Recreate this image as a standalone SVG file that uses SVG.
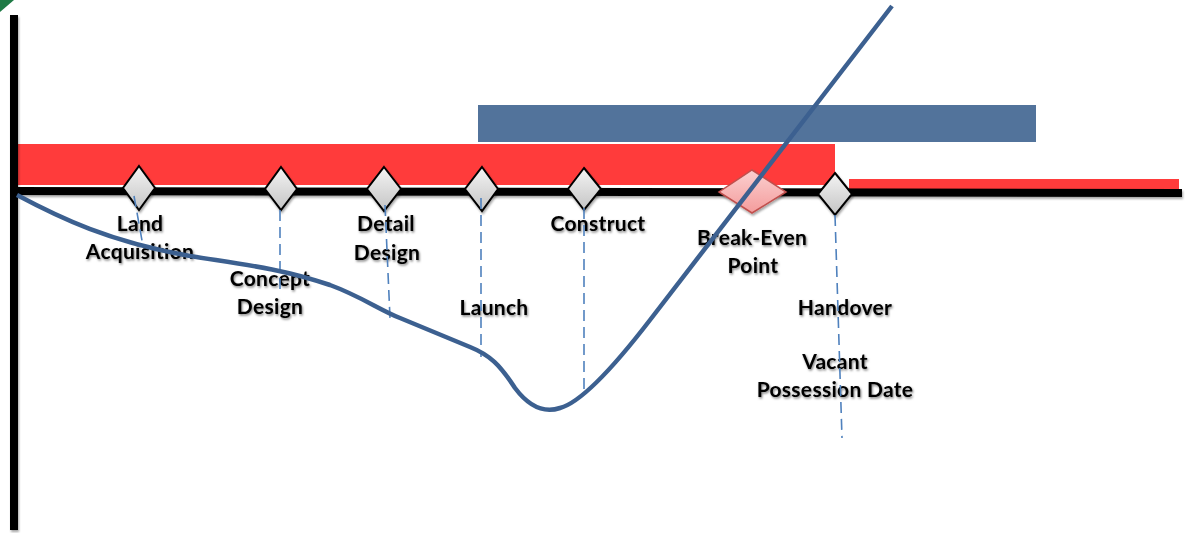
<svg xmlns="http://www.w3.org/2000/svg" width="1193" height="533" viewBox="0 0 1193 533">
<defs>
<linearGradient id="gd" x1="0" y1="0" x2="0" y2="1"><stop offset="0" stop-color="#f4f4f4"/><stop offset="1" stop-color="#c4c4c4"/></linearGradient>
<linearGradient id="pk" x1="0" y1="0" x2="0" y2="1"><stop offset="0" stop-color="#fbd0d0"/><stop offset="1" stop-color="#f49c9c"/></linearGradient>
<filter id="sh" x="-20%" y="-20%" width="140%" height="160%"><feDropShadow dx="1" dy="2" stdDeviation="1.2" flood-color="#000" flood-opacity="0.35"/></filter>
<filter id="ts" x="-10%" y="-30%" width="120%" height="160%"><feDropShadow dx="1" dy="1.5" stdDeviation="1.1" flood-color="#000" flood-opacity="0.5"/></filter>
<style>
.dia{fill:url(#gd);stroke:#000;stroke-width:2;filter:url(#sh)}
.lbl{font-family:Lato,"Liberation Sans",sans-serif;font-weight:bold;font-size:21px;letter-spacing:0.3px;fill:#000;text-anchor:middle;filter:url(#ts)}
.dash{stroke:#4f81bd;stroke-width:1.6;stroke-dasharray:11 6;fill:none}
</style>
</defs>
<polygon points="0,0 14,0 0,12" fill="#1e7a45"/>
<g id="bars">
<rect x="17" y="144" width="818" height="41" fill="#ff3b3b"/>
<rect x="849" y="179" width="330" height="10" fill="#ff3b3b"/>
<rect x="478" y="105" width="558" height="37" fill="#52739b"/>
</g>
<g id="axes" filter="url(#sh)">
<rect x="10" y="15" width="8" height="515" fill="#000"/>
<polygon points="17,187 1182,189 1182,197 17,195" fill="#000"/>
</g>
<g id="milestones">
<g id="m-land"><polygon class="dia" points="139,166 155,188 139,210 123,188"/><text class="lbl" x="140" y="231">Land</text><text class="lbl" x="140" y="259">Acquisition</text></g>
<g id="m-concept"><polygon class="dia" points="281,167 297,189 281,210 265,189"/><text class="lbl" x="270" y="286">Concept</text><text class="lbl" x="270" y="314">Design</text></g>
<g id="m-detail"><polygon class="dia" points="384,167 401,189 384,211 367,189"/><text class="lbl" x="386" y="231">Detail</text><text class="lbl" x="387" y="260">Design</text></g>
<g id="m-launch"><polygon class="dia" points="482,167 498,189 482,211 465,189"/><text class="lbl" x="494" y="315">Launch</text></g>
<g id="m-construct"><polygon class="dia" points="584,168 601,189 584,210 568,189"/><text class="lbl" x="598" y="231">Construct</text></g>
<g id="m-breakeven"><polygon points="752,170 786,192 752,213 719,192" fill="url(#pk)" stroke="#c0504d" stroke-width="1.5" filter="url(#sh)"/><text class="lbl" x="752" y="245">Break-Even</text><text class="lbl" x="753" y="273">Point</text></g>
<g id="m-handover"><polygon class="dia" points="835,173 852,194 835,215 818,194"/><text class="lbl" x="845" y="315">Handover</text><text class="lbl" x="835" y="369">Vacant</text><text class="lbl" x="835" y="397">Possession Date</text></g>
</g>
<g id="connectors">
<line class="dash" x1="134" y1="196" x2="143" y2="246" stroke-dasharray="none"/>
<line class="dash" x1="280" y1="210" x2="280" y2="290"/>
<line class="dash" x1="385" y1="205" x2="390" y2="318"/>
<line class="dash" x1="481" y1="198" x2="481" y2="357"/>
<line class="dash" x1="584" y1="208" x2="584" y2="390"/>
<line class="dash" x1="835" y1="215" x2="842" y2="438"/>
<path d="M17,195 C60,218 110,242 190,256 C240,264 280,268 330,285 C360,296 380,310 400,318 L470,347 C490,355 500,365 515,388 C530,408 545,413 560,408 C575,404 600,385 650,320 L892,6" fill="none" stroke="#3c6090" stroke-width="4.5"/>
</g>
</svg>
